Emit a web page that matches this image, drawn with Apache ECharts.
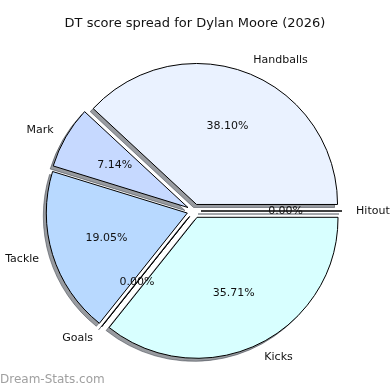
<!DOCTYPE html>
<html><head><meta charset="utf-8">
<script src="https://cdn.jsdelivr.net/npm/echarts@6/dist/echarts.min.js"></script>
<style>html,body{margin:0;padding:0;background:#fff}#c{width:390px;height:390px}</style>
</head><body><div id="c"></div>
<script>
const categories = ['Handballs', 'Mark', 'Tackle', 'Goals', 'Kicks', 'Hitout'];
const values = [16, 3, 8, 0, 15, 0];
const sliceColors = ['#eaf2ff', '#c6d9ff', '#b8d9ff', '#c8e6ff', '#d8ffff', '#e0f0ff'];
const titleText = 'DT score spread for Dylan Moore (2026)';
const watermarkText = 'Dream-Stats.com';

const CX = 194, CY = 211, R = 141, EXPLODE = 7, SH = 3;
const total = values.reduce((a, b) => a + b, 0);
const pctLabels = values.map(v => (v / total * 100).toFixed(2) + '%');
const FONT = 'DejaVu Sans';
// inner radius so that ECharts' "inside" label lands at 0.6 * R (it adds 3px outward)
const PCT_R0 = 2 * (0.6 * R - 3) - R;

function mkData(styleFn) {
  return categories.map((n, i) => ({ name: n, value: values[i], selected: true, itemStyle: styleFn(i) }));
}
const common = {
  type: 'pie', clockwise: false, startAngle: 0, selectedMode: 'multiple',
  selectedOffset: EXPLODE, avoidLabelOverlap: false, animation: false, silent: true,
  emphasis: { disabled: true }, labelLine: { show: false }, minShowLabelAngle: -1
};
const shadowStyle = { color: 'rgba(50,55,65,0.5)', borderColor: 'rgba(50,55,65,0.5)', borderWidth: 1 };
const chart = echarts.init(document.getElementById('c'), null, { renderer: 'canvas' });
chart.setOption({
  backgroundColor: '#fff',
  graphic: [
    { type: 'text', left: 'center', top: 17, style: { text: titleText, font: '13px "DejaVu Sans"', fill: '#111' } },
    { type: 'text', left: 0, top: 374, style: { text: watermarkText, font: '12px "DejaVu Sans"', fill: '#a0a0a0' } }
  ],
  series: [
    Object.assign({}, common, {
      center: [CX - SH, CY + SH], radius: R, z: 1,
      label: { show: false },
      data: mkData(() => shadowStyle),
      select: { itemStyle: shadowStyle }
    }),
    Object.assign({}, common, {
      center: [CX, CY], radius: R, z: 2,
      label: { show: true, position: 'outside', formatter: '{b}', fontFamily: FONT, fontSize: 11, color: '#111', distanceToLabelLine: 0 },
      labelLine: { show: false, length: R * 0.1, length2: 0 },
      data: mkData(i => ({ color: sliceColors[i], borderColor: '#000', borderWidth: 1 }))
    }),
    Object.assign({}, common, {
      center: [CX, CY], radius: [PCT_R0, R], z: 3,
      label: { show: true, position: 'inside', formatter: p => pctLabels[p.dataIndex], fontFamily: FONT, fontSize: 11, color: '#111' },
      data: mkData(() => ({ color: 'rgba(0,0,0,0)', borderWidth: 0 }))
    })
  ]
});
</script></body></html>
